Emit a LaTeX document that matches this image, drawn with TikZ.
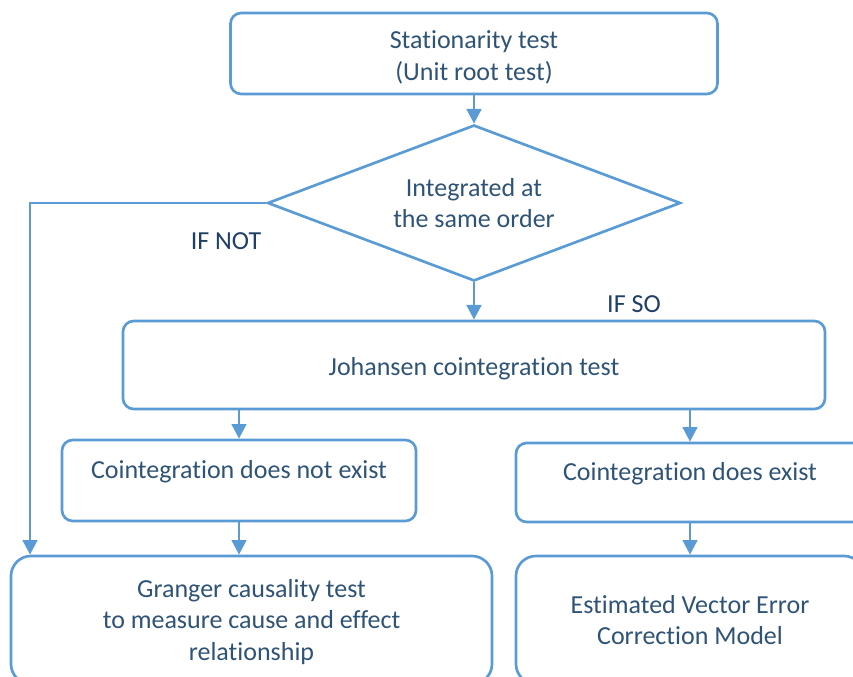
\documentclass[tikz,border=0pt]{standalone}
\usepackage{fontspec}
\setmainfont{Carlito}[Ligatures={NoCommon,NoRare,NoContextual}]
\usetikzlibrary{shapes.geometric,arrows.meta}
\definecolor{flowline}{HTML}{5B9BD5}
\definecolor{flowtext}{HTML}{2E5377}
\definecolor{flowlabel}{HTML}{1F3F66}

\begin{document}
\begin{tikzpicture}[x=0.75pt,y=-0.75pt]
                        \tikzstyle{box}=[draw=flowline, line width=2pt, rounded corners=8pt, text=flowtext, align=center, inner sep=0pt, font=\fontsize{19.5}{23.6}\selectfont]
                        \tikzstyle{bigbox}=[box, rounded corners=15pt]
                        \tikzstyle{toptext}=[text height=13.5pt, text depth=16.5pt]
                        \tikzstyle{lowtext}=[text height=20pt, text depth=4.2pt]
                        \tikzstyle{decision}=[diamond, shape aspect=2.65, draw=flowline, line width=2pt, text=flowtext, align=center, inner sep=0pt, font=\fontsize{19.5}{23.6}\selectfont]
                        \tikzstyle{flow}=[draw=flowline, line width=2pt, -{Triangle[length=11pt,width=11pt]}]
                        \tikzstyle{lbl}=[text=flowlabel, inner sep=0pt, font=\fontsize{19.5}{23.6}\selectfont]
                        \useasboundingbox (0,0) rectangle (853,677);
                        \clip (0,0) rectangle (853,677);
                        % boxes
                        \node[box, minimum width=365.25pt, minimum height=60.75pt] (stat) at (474,53.5) {\rule{0pt}{19.5pt}Stationarity test\\(Unit root test)};
                        \node[decision, minimum width=309.75pt, minimum height=117pt] (integ) at (474,203) {Integrated at\\the same order};
                        \node[box, lowtext, minimum width=526.5pt, minimum height=66pt] (joh) at (474,365) {Johansen cointegration test};
                        \node[box, toptext, minimum width=265.5pt, minimum height=60.75pt] (notex) at (239,480.5) {Cointegration does not exist};
                        \node[box, toptext, minimum width=261pt, minimum height=59.25pt] (exist) at (690,482.5) {Cointegration does exist};
                        \node[bigbox, minimum width=360.75pt, minimum height=96pt] (granger) at (251.5,620) {\rule{0pt}{16.5pt}Granger causality test\\to measure cause and effect\\relationship};
                        \node[bigbox, minimum width=261pt, minimum height=96pt] (vecm) at (690,620) {Estimated Vector Error\\Correction Model};
                        \coordinate (ifnot) at (30,203);
                        % labels
                        \node[lbl] (notlbl) at (226,241) {IF NOT};
                        \node[lbl] (solbl) at (634,304) {IF SO};
                        % arrows
                        \draw[flow] (stat) -- (integ);
                        \draw[flow] (integ) -- (joh);
                        \draw[flow] (notex.north |- joh.south) -- (notex);
                        \draw[flow] (exist.north |- joh.south) -- (exist);
                        \draw[flow] (notex.south) -- (notex.south |- granger.north);
                        \draw[flow] (exist) -- (vecm);
                        \draw[flow] (integ.west) -- (ifnot) -- (ifnot |- granger.north);
                    \end{tikzpicture}
\end{document}
